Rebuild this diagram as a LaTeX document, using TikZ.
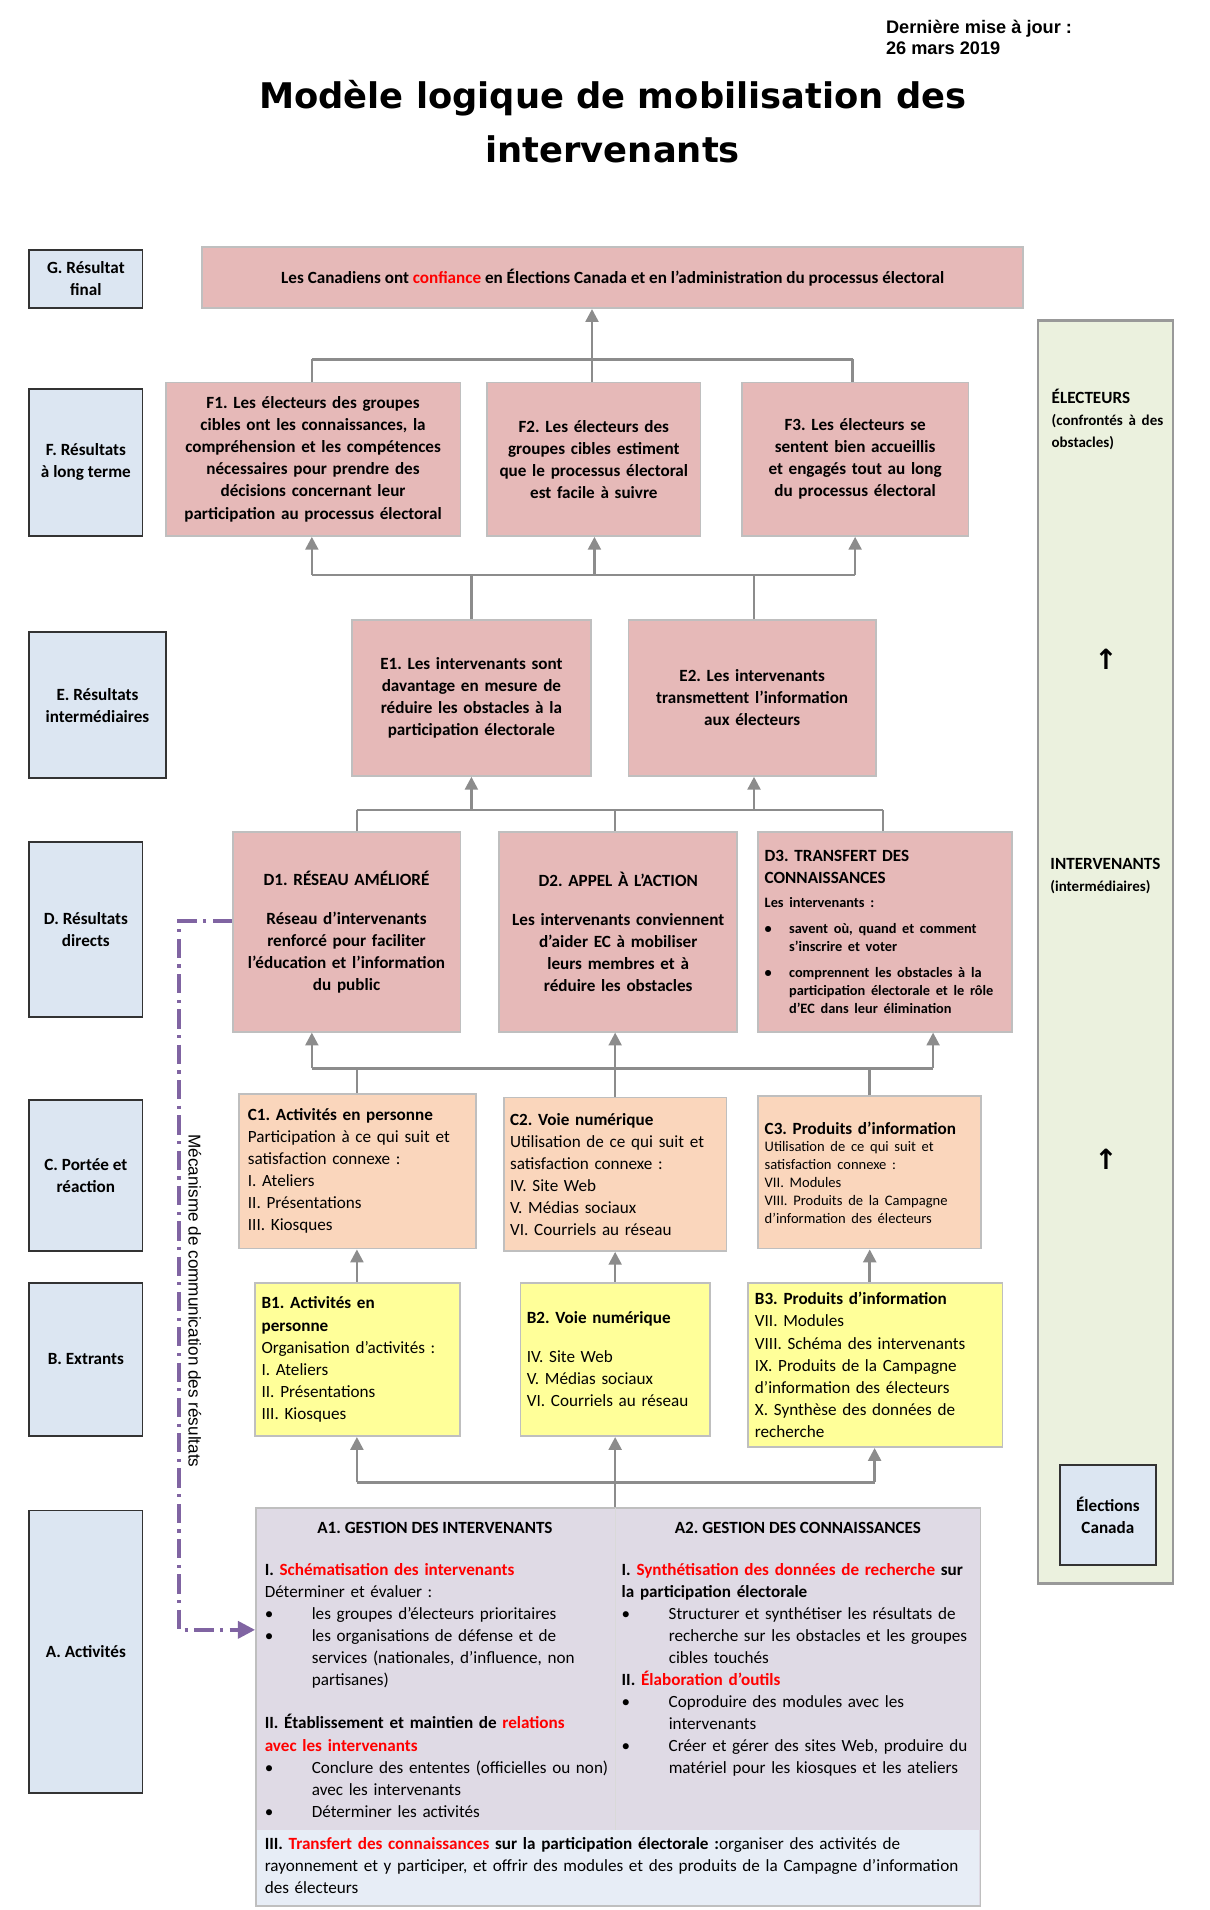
\documentclass[tikz,border=0pt]{standalone}
\usepackage{fontspec}
\setmainfont{Carlito}
\newfontfamily\titlefont{DejaVu Sans}
\newfontfamily\arialfont{Liberation Sans}
\usetikzlibrary{arrows.meta}
\definecolor{rose}{HTML}{E6B9B8}
\definecolor{peche}{HTML}{FAD6BC}
\definecolor{jaune}{HTML}{FFFF99}
\definecolor{bleupale}{HTML}{DCE6F2}
\definecolor{lavande}{HTML}{DFDAE5}
\definecolor{vert}{HTML}{EBF1DE}
\definecolor{cadre}{HTML}{BFBFBF}
\definecolor{violet}{HTML}{8064A2}
\definecolor{rouge}{HTML}{FF0000}
\frenchspacing
\hyphenpenalty=10000
\exhyphenpenalty=10000
\newcommand{\rg}[1]{\textcolor{rouge}{#1}}
\newlength{\bulw}
\setlength{\bulw}{2.2em}
\newcommand{\bul}[1]{\par\hangindent=\bulw\hangafter=1\noindent\makebox[\bulw][l]{\textbullet}#1\par}
\tikzset{
  every node/.style={font=\fontsize{8}{10.3}\selectfont, inner sep=3pt},
  etiq/.style={draw=black!80, line width=0.9pt, fill=bleupale, align=center, font=\fontsize{8}{10.3}\selectfont\bfseries},
  bx/.style={draw=cadre, line width=0.8pt, align=center},
  res/.style={bx, fill=rose, font=\fontsize{8}{10.3}\selectfont\bfseries},
  por/.style={bx, fill=peche, align=left},
  ext/.style={bx, fill=jaune, align=left},
  lien/.style={draw=black!45, line width=1.2pt},
  fl/.style={lien, -{Triangle[width=6pt,length=6pt]}},
}
\begin{document}
\begin{tikzpicture}[x=0.02cm,y=-0.02cm]
\useasboundingbox (0,0) rectangle (993,1568);

% en-tete
\node[anchor=north west, font=\arialfont\fontsize{8.5}{9.8}\selectfont\bfseries, align=left, inner sep=0pt] (maj) at (727,16) {Dernière mise à jour :\\26 mars 2019};
\node[font=\titlefont\fontsize{16.5}{25.5}\selectfont\bfseries, align=center] (titre) at (503,100) {Modèle logique de mobilisation des\\intervenants};

% colonne des etiquettes
\node[etiq, minimum width=1.86cm, minimum height=0.96cm] (lG) at (70.5,229) {G. Résultat\\final};
\node[etiq, minimum width=1.86cm, minimum height=2.42cm] (lF) at (70.5,379.5) {F. Résultats\\à long terme};
\node[etiq, minimum width=2.24cm, minimum height=2.4cm] (lE) at (80,579) {E. Résultats\\intermédiaires};
\node[etiq, minimum width=1.86cm, minimum height=2.88cm] (lD) at (70.5,763) {D. Résultats\\directs};
\node[etiq, minimum width=1.86cm, minimum height=2.48cm] (lC) at (70.5,965) {C. Portée et\\réaction};
\node[etiq, minimum width=1.86cm, minimum height=2.52cm] (lB) at (70.5,1116) {B. Extrants};
\node[etiq, minimum width=1.86cm, minimum height=4.64cm] (lA) at (70.5,1356) {A. Activités};

% colonne de droite
\node[draw=black!40, line width=1pt, fill=vert, minimum width=2.22cm, minimum height=20.74cm] (cote) at (907.5,781.5) {};
\node[anchor=north west, text width=2.05cm, align=left, inner sep=0pt] (elec) at (863,319) {\textbf{ÉLECTEURS}\par\fontsize{7}{9}\selectfont\bfseries (confrontés à des obstacles)};
\node[font=\titlefont\fontsize{13}{13}\selectfont\bfseries] (h1) at (908,541) {↑};
\node[anchor=north west, text width=2.05cm, align=left, inner sep=0pt] (inter) at (862,704) {\textbf{INTERVENANTS}\par\fontsize{7}{9}\selectfont\bfseries (intermédiaires)};
\node[font=\titlefont\fontsize{13}{13}\selectfont\bfseries] (h2) at (908,952) {↑};
\node[etiq, minimum width=1.58cm, minimum height=1.64cm] (ec) at (909.5,1244) {Élections\\Canada};

% G et F
\node[res, minimum width=13.48cm, minimum height=1.0cm] (G) at (503,228) {Les Canadiens ont \rg{confiance} en Élections Canada et en l’administration du processus électoral};
\node[res, minimum width=4.84cm, minimum height=2.52cm, text width=4.55cm] (F1) at (257,377) {F1. Les électeurs des groupes cibles ont les connaissances, la compréhension et les compétences nécessaires pour prendre des décisions concernant leur participation au processus électoral};
\node[res, minimum width=3.5cm, minimum height=2.52cm, text width=3.25cm] (F2) at (487.5,377) {F2. Les électeurs des groupes cibles estiment que le processus électoral est facile à suivre};
\node[res, minimum width=3.72cm, minimum height=2.52cm, text width=3.4cm] (F3) at (702,377) {F3. Les électeurs se sentent bien accueillis et engagés tout au long du processus électoral};

% E
\node[res, minimum width=3.92cm, minimum height=2.56cm, text width=3.25cm] (E1) at (387,573) {E1. Les intervenants sont davantage en mesure de réduire les obstacles à la participation électorale};
\node[res, minimum width=4.06cm, minimum height=2.56cm, text width=3.6cm] (E2) at (617.5,573) {E2. Les intervenants transmettent l’information aux électeurs};

% D
\node[res, minimum width=3.74cm, minimum height=3.28cm, text width=3.6cm, inner xsep=1pt] (D1) at (284.5,765) {D1. RÉSEAU AMÉLIORÉ\\[8pt]Réseau d’intervenants\\renforcé pour faciliter\\l’éducation et l’information\\du public};
\node[res, minimum width=3.9cm, minimum height=3.28cm, text width=3.7cm] (D2) at (507.5,765) {D2. APPEL À L’ACTION\\[8pt]Les intervenants conviennent d’aider EC à mobiliser leurs membres et à réduire les obstacles};
\node[res, minimum width=4.18cm, minimum height=3.28cm, text width=3.95cm, align=left] (D3) at (726.5,765) {D3. TRANSFERT DES CONNAISSANCES\par\vspace{3pt}\fontsize{6.7}{8.3}\selectfont\setlength{\bulw}{1.7em}Les intervenants :\par\vspace{4pt}
\bul{savent où, quand et comment s’inscrire et voter}\vspace{4pt}
\bul{comprennent les obstacles à la participation électorale et le rôle d’EC dans leur élimination}};

% C
\node[por, minimum width=3.9cm, minimum height=2.54cm, text width=3.6cm] (C1) at (293.5,961.5) {\textbf{C1. Activités en personne}\\Participation à ce qui suit et satisfaction connexe :\\I. Ateliers\\II. Présentations\\III. Kiosques\\[4pt]};
\node[por, minimum width=3.64cm, minimum height=2.52cm, text width=3.45cm] (C2) at (505,964) {\textbf{C2. Voie numérique}\\Utilisation de ce qui suit et satisfaction connexe :\\IV. Site Web\\V. Médias sociaux\\VI. Courriels au réseau};
\node[por, minimum width=3.64cm, minimum height=2.5cm, text width=3.45cm] (C3) at (714,962.5) {\textbf{C3. Produits d’information}\par\fontsize{6.8}{8.3}\selectfont Utilisation de ce qui suit et satisfaction connexe :\par VII. Modules\par VIII. Produits de la Campagne d’information des électeurs\par\vspace{10pt}};

% B
\node[ext, minimum width=3.34cm, minimum height=2.52cm, text width=3.15cm] (B1) at (293.5,1116) {\textbf{B1. Activités en}\\\textbf{personne}\\Organisation d’activités :\\I. Ateliers\\II. Présentations\\III. Kiosques};
\node[ext, minimum width=3.08cm, minimum height=2.52cm, text width=2.9cm] (B2) at (505,1116) {\textbf{B2. Voie numérique}\\[8pt]IV. Site Web\\V. Médias sociaux\\VI. Courriels au réseau\\[10pt]};
\node[ext, minimum width=4.18cm, minimum height=2.7cm, text width=3.95cm] (B3) at (718.5,1120.5) {\textbf{B3. Produits d’information}\\VII. Modules\\VIII. Schéma des intervenants\\IX. Produits de la Campagne d’information des électeurs\\X. Synthèse des données de recherche};

% A
\node[draw=cadre, line width=0.8pt, fill=lavande, minimum width=11.9cm, minimum height=6.54cm] (A) at (507.5,1401.5) {};
\fill[bleupale!70] (211,1502) rectangle (804,1564);
\draw[white!85!black, line width=0.6pt] (505,1238) -- (505,1502);
\node[font=\fontsize{8}{10.3}\selectfont\bfseries] (A1t) at (357,1254) {A1. GESTION DES INTERVENANTS};
\node[font=\fontsize{8}{10.3}\selectfont\bfseries] (A2t) at (655,1254) {A2. GESTION DES CONNAISSANCES};
\node[anchor=north west, text width=5.72cm, align=left, inner sep=0pt] (A1) at (217,1283) {\textbf{I. \rg{Schématisation des intervenants}}\par Déterminer et évaluer :
\bul{les groupes d’électeurs prioritaires}
\bul{les organisations de défense et de services (nationales, d’influence, non partisanes)}\vspace{10pt}
\noindent\textbf{II. Établissement et maintien de \rg{relations}}\\\textbf{\rg{avec les intervenants}}
\bul{Conclure des ententes (officielles ou non) avec les intervenants}
\bul{Déterminer les activités}};
\node[anchor=north west, text width=5.8cm, align=left, inner sep=0pt] (A2) at (510,1283) {\textbf{I. \rg{Synthétisation des données de recherche} sur la participation électorale}
\bul{Structurer et synthétiser les résultats de recherche sur les obstacles et les groupes cibles touchés}
\noindent\textbf{II. \rg{Élaboration d’outils}}
\bul{Coproduire des modules avec les intervenants}
\bul{Créer et gérer des sites Web, produire du matériel pour les kiosques et les ateliers}};
\node[anchor=north west, text width=11.7cm, align=left, inner sep=0pt] (A3) at (217,1508) {\textbf{III. \rg{Transfert des connaissances} sur la participation électorale :}organiser des activités de rayonnement et y participer, et offrir des modules et des produits de la Campagne d’information des électeurs};

% liens F -> G
\draw[fl] (486,295) -- (G.south -| 486,0);
\draw[lien] (256,295) -- (700,295);
\draw[lien] (F1.north -| 256,0) -- (256,295);
\draw[lien] (F2.north -| 486,0) -- (486,295);
\draw[lien] (F3.north -| 700,0) -- (700,295);
% liens E -> F
\draw[lien] (256,472) -- (702,472);
\draw[fl] (256,472) -- (F1.south -| 256,0);
\draw[fl] (488,472) -- (F2.south -| 488,0);
\draw[fl] (702,472) -- (F3.south -| 702,0);
\draw[lien] (E1.north) -- (E1.north |- 0,472);
\draw[lien] (E2.north -| 619,0) -- (619,472);
% liens D -> E
\draw[lien] (293,665) -- (725,665);
\draw[fl] (387,665) -- (E1.south);
\draw[fl] (619,665) -- (E2.south -| 619,0);
\draw[lien] (D1.north -| 293,0) -- (293,665);
\draw[lien] (D2.north -| 505,0) -- (505,665);
\draw[lien] (D3.north -| 725,0) -- (725,665);
% liens C -> D
\draw[lien] (256,877) -- (766,877);
\draw[fl] (256,877) -- (D1.south -| 256,0);
\draw[fl] (505,877) -- (D2.south -| 505,0);
\draw[fl] (766,877) -- (D3.south -| 766,0);
\draw[lien] (C1.north -| 293,0) -- (293,877);
\draw[lien] (C2.north -| 505,0) -- (505,877);
\draw[lien] (C3.north -| 714,0) -- (714,877);
% liens B -> C
\draw[fl] (B1.north -| 293,0) -- (C1.south -| 293,0);
\draw[fl] (B2.north) -- (C2.south);
\draw[fl] (B3.north -| 714,0) -- (C3.south -| 714,0);
% liens A -> B
\draw[lien] (293,1217) -- (718,1217);
\draw[fl] (293,1217) -- (B1.south -| 293,0);
\draw[fl] (A.north -| 505,0) -- (B2.south);
\draw[fl] (718,1217) -- (B3.south -| 718,0);

% retour
\draw[violet, line width=1.6pt, dash pattern=on 9pt off 3pt on 1.5pt off 3pt, -{Triangle[width=8pt,length=8pt]}] (D1.west |- 0,756) -- (147,756) -- (147,1338) -- (A.west |- 0,1338);
\node[rotate=-90, font=\arialfont\fontsize{8}{10}\selectfont] (meca) at (160,1068) {Mécanisme de communication des résultats};
\end{tikzpicture}
\end{document}
